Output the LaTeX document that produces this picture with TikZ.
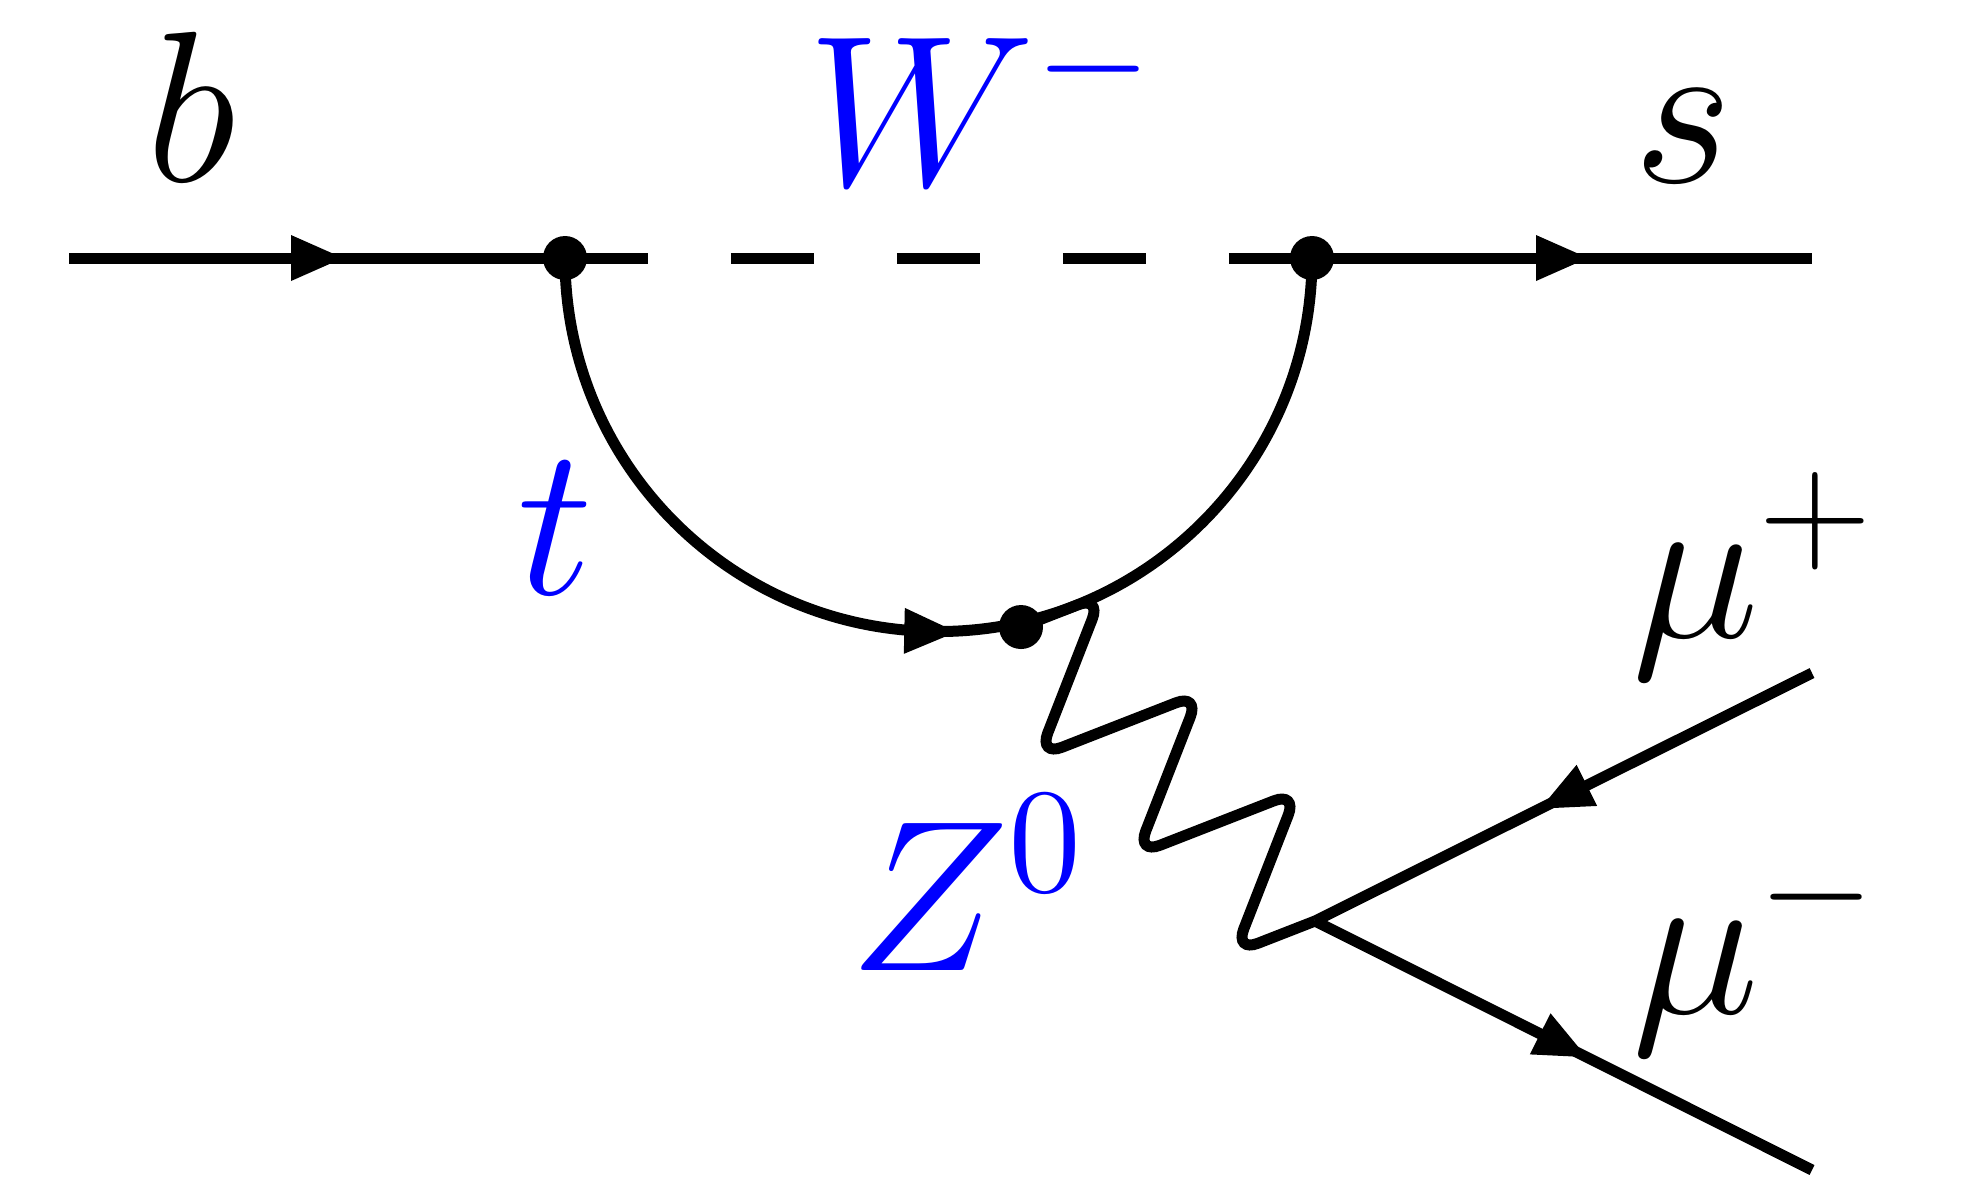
\documentclass[tikz,border=0pt]{standalone}
\DeclareMathSizes{20.74}{20.74}{14.4}{10}
\usetikzlibrary{calc,decorations.markings,arrows.meta}
\tikzset{
  fline/.style={line width=1.1pt, postaction={decorate},
    decoration={markings, mark=at position #1 with {\fill (-2.6pt,-2.3pt) -- (2.6pt,0pt) -- (-2.6pt,2.3pt) -- cycle;}}},
  fline/.default=0.5,
  wline/.style={line width=1.1pt, dash pattern=on 8.3pt off 8.3pt},
  zline/.style={line width=1.1pt, rounded corners=2.5pt},
  lab/.style={font=\fontsize{20.74}{25}\selectfont, inner sep=0pt, scale=1.037},
}
\begin{document}
\begin{tikzpicture}[x=0.1pt,y=0.1pt]
\useasboundingbox (0,0) rectangle (1962,1180);
% vertices and ends
\coordinate (bL) at (69,922);
\coordinate (V1) at (565,922);
\coordinate (V2) at (1312,922);
\coordinate (sR) at (1812,922);
\coordinate (V3) at (1021,553);
\coordinate (V4) at (1315,259);
\coordinate (mp) at (1812,507);
\coordinate (mm) at (1812,10);
% lines
\draw[fline] (bL) -- (V1);
\draw[wline] (V1) -- (V2);
\draw[fline] (V2) -- (sR);
\draw[fline=0.493] (V1) arc[start angle=180, end angle=360, radius=373.5];
\draw[zline] (V3)
  -- ($(V3)!1/12!(V4)!7.9pt!90:(V4)$)
  -- ($(V3)!3/12!(V4)!7.9pt!-90:(V4)$)
  -- ($(V3)!5/12!(V4)!7.9pt!90:(V4)$)
  -- ($(V3)!7/12!(V4)!7.9pt!-90:(V4)$)
  -- ($(V3)!9/12!(V4)!7.9pt!90:(V4)$)
  -- ($(V3)!11/12!(V4)!7.9pt!-90:(V4)$)
  -- (V4);
\draw[fline] (mp) -- (V4);
\draw[fline] (V4) -- (mm);
% dots
\fill (V1) circle[radius=22];
\fill (V2) circle[radius=22];
\fill (V3) circle[radius=22];
% labels
\node[lab, anchor=base] (lb) at (191,999) {$b$};
\node[lab, anchor=base west, text=blue] (lW) at (805,995) {$W^-$};
\node[lab, anchor=base] (ls) at (1683,998) {$s$};
\node[lab, anchor=base, text=blue] (lt) at (556,586) {$t$};
\node[lab, anchor=base west] (lmp) at (1630,543) {$\mu^+$};
\node[lab, anchor=base west, text=blue] (lZ) at (847,210) {$Z^0$};
\node[lab, anchor=base west] (lmm) at (1630,167) {$\mu^-$};
\end{tikzpicture}
\end{document}
